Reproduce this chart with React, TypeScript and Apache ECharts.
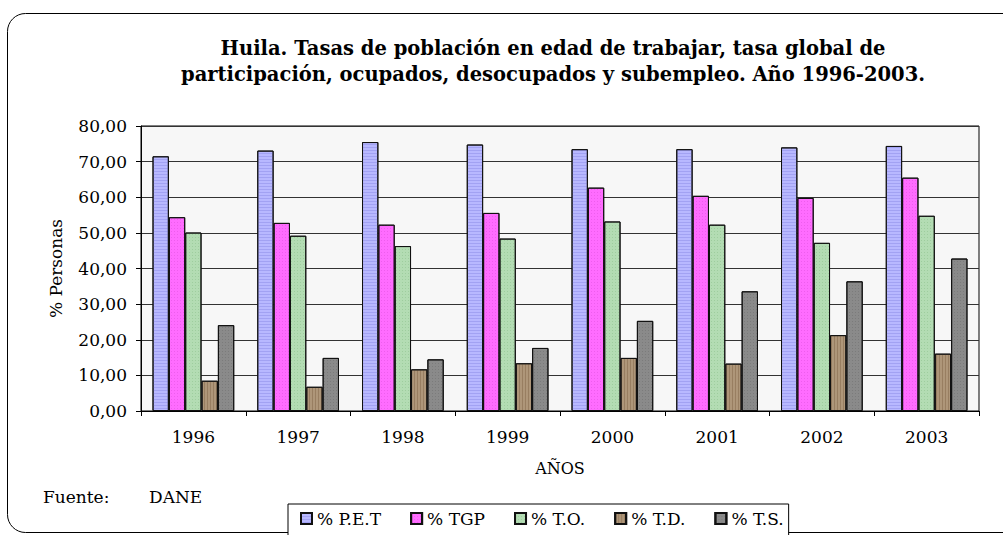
import React, { useEffect, useRef } from "react";
import * as echarts from "echarts";

const years = ["1996", "1997", "1998", "1999", "2000", "2001", "2002", "2003"];
const pet = [71.5, 73.1, 75.5, 74.8, 73.5, 73.5, 74.0, 74.4];
const tgp = [54.4, 52.8, 52.3, 55.6, 62.7, 60.4, 59.8, 65.5];
const to = [50.1, 49.2, 46.3, 48.4, 53.2, 52.3, 47.2, 54.8];
const td = [8.5, 6.8, 11.7, 13.4, 14.9, 13.3, 21.3, 16.1];
const ts = [24.1, 14.9, 14.5, 17.7, 25.3, 33.6, 36.4, 42.8];
const seriesNames = ["% P.E.T", "% TGP", "% T.O.", "% T.D.", "% T.S."];
const yTicks = [0, 10, 20, 30, 40, 50, 60, 70, 80];

const FONT = "DejaVu Serif";

export default function App() {
  const ref = useRef<HTMLDivElement>(null);
  useEffect(() => {
    document.body.style.margin = "0";
    const chart = echarts.init(ref.current!, undefined, { renderer: "svg" });
    const colors = ["#b8b8ff", "#ff6cff", "#b3dcb3", "#ae9679", "#8a8a8a"];
    const decals = [
      { symbol: "rect", symbolSize: 1, dashArrayX: [1, 0], dashArrayY: [1, 2], color: "rgba(120,120,220,0.35)" },
      { symbol: "rect", symbolSize: 1, dashArrayX: [1, 2], dashArrayY: [1, 2], color: "rgba(200,60,200,0.3)" },
      { symbol: "rect", symbolSize: 1, dashArrayX: [1, 2], dashArrayY: [1, 2], color: "rgba(110,170,110,0.3)" },
      { symbol: "rect", symbolSize: 1, dashArrayX: [1, 2], dashArrayY: [1, 0], color: "rgba(110,80,50,0.35)" },
      { symbol: "rect", symbolSize: 1, dashArrayX: [1, 2], dashArrayY: [1, 2], color: "rgba(90,90,90,0.3)" },
    ];
    const data = [pet, tgp, to, td, ts];
    chart.setOption({
      animation: false,
      backgroundColor: "#ffffff",
      textStyle: { fontFamily: FONT },
      title: {
        text:
          "Huila. Tasas de población en edad de trabajar, tasa global de\nparticipación, ocupados, desocupados y subempleo. Año 1996-2003.",
        left: 548,
        top: 30,
        textAlign: "center",
        textStyle: {
          fontFamily: FONT,
          fontSize: 19.5,
          fontWeight: "bold",
          color: "#000",
          lineHeight: 26,
        },
      },
      legend: {
        data: seriesNames,
        left: 288,
        top: 504,
        padding: [6, 5, 10, 12],
        borderColor: "#000",
        borderWidth: 1,
        backgroundColor: "#fff",
        itemWidth: 11,
        itemHeight: 11,
        itemGap: 29,
        icon: "rect",
        textStyle: { fontFamily: FONT, fontSize: 17, color: "#000" },
      },
      grid: {
        left: 141,
        right: 24,
        top: 126,
        bottom: 124,
        show: true,
        backgroundColor: "#f7f7f7",
        borderColor: "#000",
        borderWidth: 1,
      },
      xAxis: {
        type: "category",
        data: years,
        name: "AÑOS",
        nameLocation: "middle",
        nameGap: 49,
        nameTextStyle: { fontFamily: FONT, fontSize: 16, color: "#000" },
        axisLine: { lineStyle: { color: "#000", width: 1 } },
        axisTick: { show: true, length: 5, inside: false, lineStyle: { color: "#000" } },
        axisLabel: { margin: 17, fontFamily: FONT, fontSize: 17, color: "#000" },
      },
      yAxis: {
        type: "value",
        min: 0,
        max: 80,
        interval: 10,
        name: "% Personas",
        nameLocation: "middle",
        nameGap: 77,
        nameTextStyle: { fontFamily: FONT, fontSize: 17, color: "#000" },
        axisLine: { show: true, lineStyle: { color: "#000", width: 1 } },
        axisTick: { show: true, length: 5, lineStyle: { color: "#000" } },
        axisLabel: {
          margin: 14,
          fontFamily: FONT,
          fontSize: 17,
          color: "#000",
          formatter: (v: number) =>
            yTicks.includes(v) ? v.toFixed(2).replace(".", ",") : "",
        },
        splitLine: { show: true, lineStyle: { color: "#333", width: 1 } },
      },
      graphic: [
        {
          type: "rect",
          shape: { x: 7.5, y: 13.5, width: 1030, height: 519, r: 18 },
          style: { fill: "none", stroke: "#000", lineWidth: 1 },
          silent: true,
          z: -1,
        },
        {
          type: "text",
          x: 43,
          y: 497,
          style: {
            text: "Fuente:",
            fontFamily: FONT,
            fontSize: 17,
            fill: "#000",
            verticalAlign: "middle",
          },
        },
        {
          type: "text",
          x: 149,
          y: 497,
          style: {
            text: "DANE",
            fontFamily: FONT,
            fontSize: 17,
            fill: "#000",
            verticalAlign: "middle",
          },
        },
      ],
      series: seriesNames.map((n, i) => ({
        name: n,
        type: "bar",
        data: data[i],
        barGap: "0%",
        barCategoryGap: "22%",
        itemStyle: { color: colors[i], borderColor: "#111", borderWidth: 1, decal: decals[i] },
      })),
    });
    return () => chart.dispose();
  }, []);
  return <div ref={ref} style={{ width: 1003, height: 535 }} />;
}
